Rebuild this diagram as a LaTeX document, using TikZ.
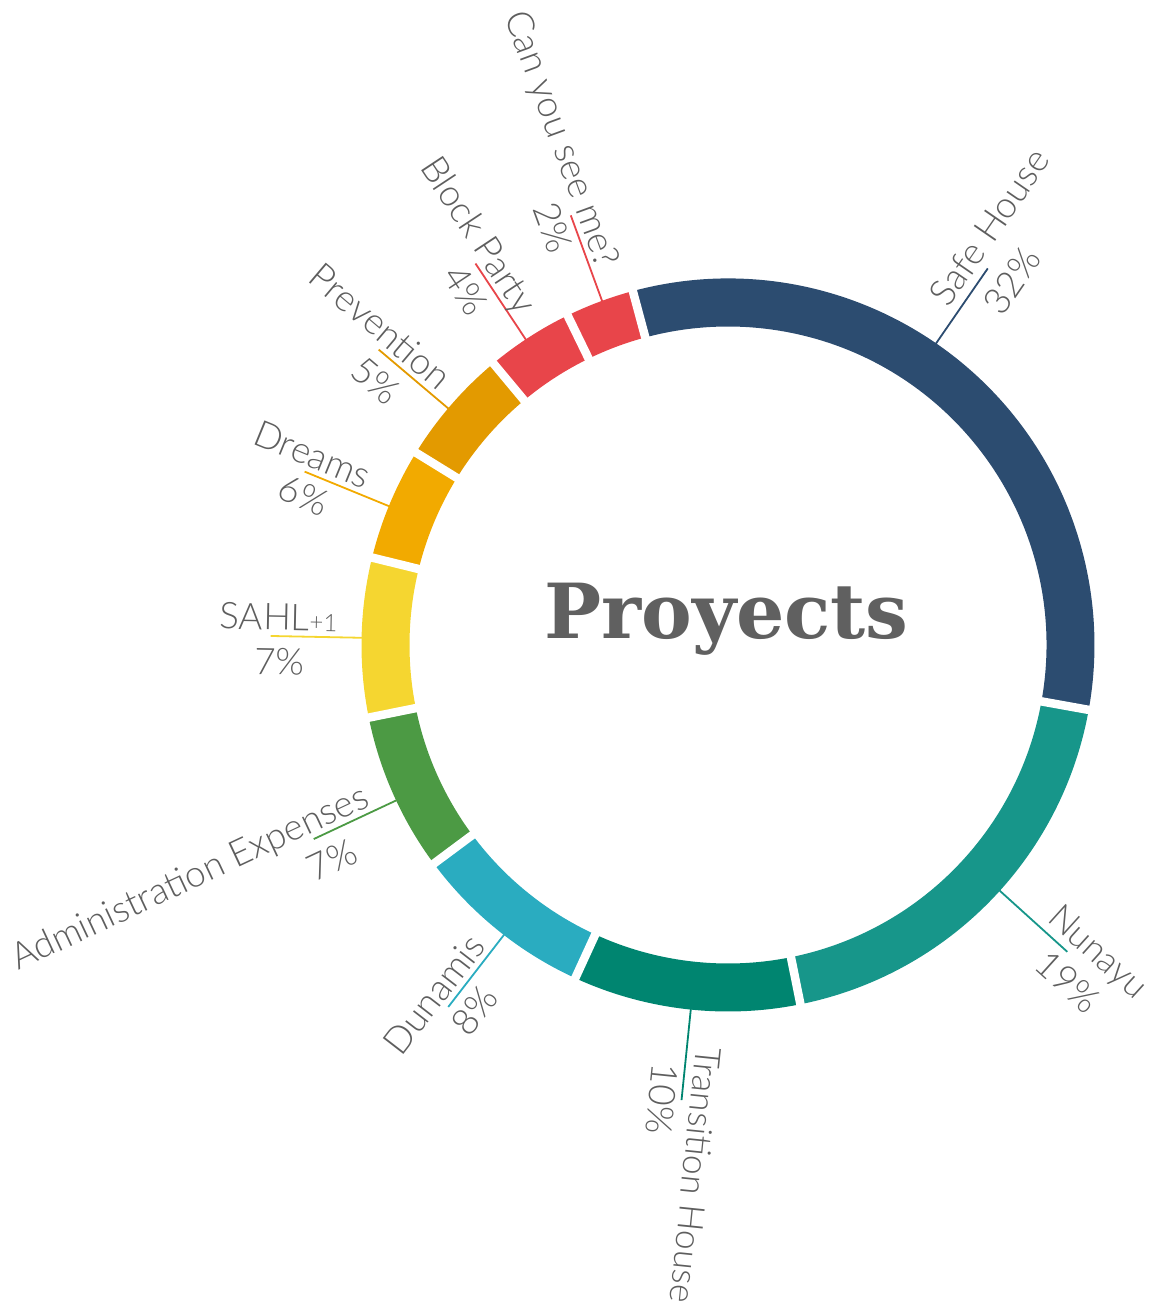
\documentclass[tikz,border=0pt]{standalone}
\usepackage{fontspec}
\newfontfamily\labfont{Lato Light}
\newfontfamily\titfont{DejaVu Serif}
\definecolor{cSafe}{HTML}{2C4C70}
\definecolor{cNun}{HTML}{17968A}
\definecolor{cTra}{HTML}{008570}
\definecolor{cDun}{HTML}{2AACC0}
\definecolor{cAdm}{HTML}{4C9A44}
\definecolor{cSahl}{HTML}{F5D630}
\definecolor{cDre}{HTML}{F2AA00}
\definecolor{cPre}{HTML}{E39A00}
\definecolor{cRed}{HTML}{E8454A}
\definecolor{txt}{HTML}{5E5E5E}
\definecolor{ttl}{HTML}{606060}
\newcommand\ringseg[3]{\fill[#3] (#1:366.5) arc[start angle=#1, end angle=#2, radius=366.5] -- (#2:318.5) arc[start angle=#2, end angle=#1, radius=318.5] -- cycle;}
\begin{document}
\begin{tikzpicture}[x=1pt,y=1pt,
  lead/.style={draw=#1, line width=1.8pt},
  lab/.style={font=\labfont\fontsize{36.8}{43}\selectfont, text=txt, inner sep=0pt, transform shape},
  labs/.style={font=\labfont\fontsize{35.5}{43}\selectfont, text=txt, inner sep=0pt, transform shape},
  gap/.style={draw=white, line width=8.5pt}]
\useasboundingbox (-728,-665) rectangle (421,645);
% ring
\ringseg{105.05}{-10.2}{cSafe}
\ringseg{-10.2}{-78.6}{cNun}
\ringseg{-78.6}{-114.63}{cTra}
\ringseg{-114.63}{-143.38}{cDun}
\ringseg{-143.38}{-168.57}{cAdm}
\ringseg{-168.57}{-193.8}{cSahl}
\ringseg{-193.8}{-211.65}{cDre}
\ringseg{-211.65}{-230.2}{cPre}
\ringseg{-230.2}{-244.05}{cRed}
\ringseg{-244.05}{-254.95}{cRed}
\foreach \b in {105.05,-10.2,-78.6,-114.63,-143.38,-168.57,-193.8,-211.65,-230.2,-244.05}
  \draw[gap] (\b:310) -- (\b:375);
% title
\node[font=\titfont\bfseries\fontsize{76}{90}\selectfont, text=ttl, anchor=base, inner sep=0pt] (title) at (-1.5,7) {Proyects};
% Safe House
\coordinate (sSafe) at (55.4:366); \coordinate (eSafe) at (55.4:457.5);
\draw[lead=cSafe] (sSafe) -- (eSafe);
\begin{scope}[shift={(eSafe)}, rotate=55.4]
  \node[lab, anchor=base west] (nSafe) at (-55.5,9) {Safe House};
  \node[lab] (pSafe) at (3.5,-27.3) {32\%};
\end{scope}
% Nunayu
\coordinate (sNun) at (-42.12:366); \coordinate (eNun) at (-42.12:457.5);
\draw[lead=cNun] (sNun) -- (eNun);
\begin{scope}[shift={(eNun)}, rotate=-42.12]
  \node[labs, anchor=base west] (nNun) at (-37,9) {Nunayu};
  \node[lab] (pNun) at (20.6,-21.6) {19\%};
\end{scope}
% Transition House
\coordinate (sTra) at (-95.83:366); \coordinate (eTra) at (-95.83:457.5);
\draw[lead=cTra] (sTra) -- (eTra);
\begin{scope}[shift={(eTra)}, rotate=-95.83]
  \node[labs, anchor=base west] (nTra) at (-55,9) {Transition House};
  \node[lab] (pTra) at (0.9,-19.4) {10\%};
\end{scope}
% Dunamis
\coordinate (sDun) at (-127.7:366); \coordinate (eDun) at (-127.7:457.5);
\draw[lead=cDun] (sDun) -- (eDun);
\begin{scope}[shift={(eDun)}, rotate=52.3]
  \node[lab, anchor=base east] (nDun) at (71,6) {Dunamis};
  \node[lab] (pDun) at (12.9,-22.8) {8\%};
\end{scope}
% Administration Expenses
\coordinate (sAdm) at (-154.9:366); \coordinate (eAdm) at (-154.9:457.5);
\draw[lead=cAdm] (sAdm) -- (eAdm);
\begin{scope}[shift={(eAdm)}, rotate=25.1]
  \node[lab, anchor=base east] (nAdm) at (66.5,6) {Administration Expenses};
  \node[lab] (pAdm) at (7.8,-26.6) {7\%};
\end{scope}
% SAHL+1
\coordinate (sSahl) at (178.87:366); \coordinate (eSahl) at (178.87:457.5);
\draw[lead=cSahl] (sSahl) -- (eSahl);
\begin{scope}[shift={(eSahl)}, rotate=-1.13]
  \node[lab, anchor=base east] (nSahl) at (66.7,6) {SAHL{\fontsize{24}{28}\selectfont+1}};
  \node[lab] (pSahl) at (9.2,-25.7) {7\%};
\end{scope}
% Dreams
\coordinate (sDre) at (157.73:366); \coordinate (eDre) at (157.73:457.5);
\draw[lead=cDre] (sDre) -- (eDre);
\begin{scope}[shift={(eDre)}, rotate=-22.27]
  \node[lab, anchor=base east] (nDre) at (62,6) {Dreams};
  \node[lab] (pDre) at (8.4,-22.2) {6\%};
\end{scope}
% Prevention
\coordinate (sPre) at (139.78:366); \coordinate (ePre) at (139.78:457.5);
\draw[lead=cPre] (sPre) -- (ePre);
\begin{scope}[shift={(ePre)}, rotate=-40.22]
  \node[lab, anchor=base east] (nPre) at (72,6) {Prevention};
  \node[lab] (pPre) at (18.2,-25.8) {5\%};
\end{scope}
% Block Party
\coordinate (sBlk) at (123.5:366); \coordinate (eBlk) at (123.5:457.5);
\draw[lead=cRed] (sBlk) -- (eBlk);
\begin{scope}[shift={(eBlk)}, rotate=-56.5]
  \node[lab, anchor=base east] (nBlk) at (68,6) {Block Party};
  \node[lab] (pBlk) at (17.3,-23) {4\%};
\end{scope}
% Can you see me?
\coordinate (sCan) at (110.1:366); \coordinate (eCan) at (110.1:457.5);
\draw[lead=cRed] (sCan) -- (eCan);
\begin{scope}[shift={(eCan)}, rotate=-69.9]
  \node[lab, anchor=base east] (nCan) at (60,6) {Can you see me?};
  \node[lab] (pCan) at (5.7,-20.6) {2\%};
\end{scope}
\end{tikzpicture}
\end{document}
